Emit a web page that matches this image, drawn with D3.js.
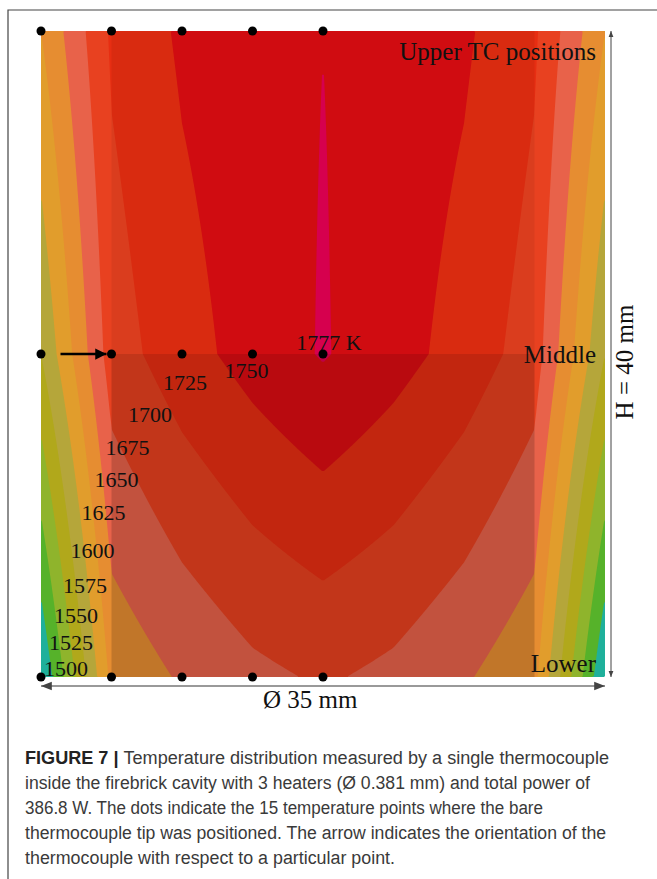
<!DOCTYPE html>
<html>
<head>
<meta charset="utf-8">
<script src="https://cdn.jsdelivr.net/npm/d3@7"></script>
<style>
  body { margin: 0; background: #fff; }
  svg { display: block; }
  .serif { font-family: "Liberation Serif", "DejaVu Serif", serif; fill: #111; }
  .cap { font-family: "Liberation Sans", Arial, sans-serif; font-size: 18px; fill: #3a3a3a; }
</style>
</head>
<body>
<svg></svg>
<script>
// thermocouple positions (mm) and measured temperatures (K)
const radius = [17.5, 13.125, 8.75, 4.375, 0]
const heights = [40, 20, 0]
const upperT = [1650, 1729, 1754, 1766, 1774.85]
const middleT = [1600, 1713, 1740, 1760, 1777]
const lowerT = [1500, 1657, 1678, 1694, 1703]

const levels = [1500, 1525, 1550, 1575, 1600, 1625, 1650, 1675, 1700, 1725, 1750, 1775]
const bandColors = ['#1fb09b', '#56b22a', '#8fb42c', '#b1a81b', '#b5a63a', '#e19d2c',
                    '#e68d31', '#e8624a', '#e84120', '#e72e12', '#dd0d13', '#e40053']
const levelLabels = ['1500', '1525', '1550', '1575', '1600', '1625', '1650', '1675', '1700', '1725', '1750']
// label anchors along the lower-left diagonal, in mm (r, h)
const labelR = [-15.95, -15.64, -15.33, -14.77, -14.30, -13.62, -12.81, -12.13, -10.74, -8.56, -4.75]
const labelH = [0.06, 1.67, 3.34, 5.20, 7.37, 9.72, 11.76, 13.75, 15.79, 17.77, 18.51]
const peakLabel = '1777 K'

const captionLines = [
  ['FIGURE 7 | ', 'Temperature distribution measured by a single thermocouple'],
  ['', 'inside the firebrick cavity with 3 heaters (Ø 0.381 mm) and total power of'],
  ['', '386.8 W. The dots indicate the 15 temperature points where the bare'],
  ['', 'thermocouple tip was positioned. The arrow indicates the orientation of the'],
  ['', 'thermocouple with respect to a particular point.']
]
const captionWidths = [584, 565, 518, 581, 370]

const svg = d3.select("svg")
    .attr("width", 657)
    .attr("height", 879)

const xScale = d3.scaleLinear()
    .domain([-17.5, 17.5])
    .range([41, 605])

const yScale = d3.scaleLinear()
    .domain([0, 40])
    .range([677, 31])

// frame
svg.append("path")
    .attr("d", "M8,879 V10 H657")
    .attr("fill", "none")
    .attr("stroke", "#444")
    .attr("stroke-width", 1.2)

// piecewise linear in r for each row, then linear in h
const rows = [upperT, middleT, lowerT].map(t => d3.scaleLinear().domain(radius).range(t))
function tempAt(r, h) {
    const a = Math.abs(r)
    const col = d3.scaleLinear().domain(heights).range(rows.map(s => s(a)))
    return col(h)
}

const step = 2
const x0 = xScale.range()[0], y0 = yScale.range()[1]
const nx = Math.ceil((xScale.range()[1] - x0) / step)
const ny = Math.ceil((yScale.range()[0] - y0) / step)
const values = new Array(nx * ny)
for (let j = 0; j < ny; j++) {
    for (let i = 0; i < nx; i++) {
        const r = xScale.invert(x0 + (i + 0.5) * step)
        const h = yScale.invert(y0 + (j + 0.5) * step)
        values[j * nx + i] = tempAt(r, h)
    }
}

const contours = d3.contours()
    .size([nx, ny])
    .thresholds(levels)(values)

svg.append("clipPath")
    .attr("id", "plotclip")
    .append("rect")
    .attr("x", xScale(-17.5))
    .attr("y", yScale(40))
    .attr("width", xScale(17.5) - xScale(-17.5))
    .attr("height", yScale(0) - yScale(40))

const plot = svg.append("g").attr("clip-path", "url(#plotclip)")

plot.append("g")
    .attr("transform", `translate(${x0},${y0}) scale(${step})`)
    .selectAll("path")
    .data(contours)
    .join("path")
    .attr("d", d3.geoPath())
    .attr("fill", (d, i) => bandColors[i])

// darker shading of the inner mesh cells (upper lighter, lower stronger)
const shade = [[heights[0], heights[1], 0.06], [heights[1], heights[2], 0.16]]
plot.selectAll("rect.shade")
    .data(shade)
    .join("rect")
    .attr("class", "shade")
    .attr("x", xScale(-radius[1]))
    .attr("y", d => yScale(d[0]))
    .attr("width", xScale(radius[1]) - xScale(-radius[1]))
    .attr("height", d => yScale(d[1]) - yScale(d[0]))
    .attr("fill", "#000")
    .attr("opacity", d => d[2])

// contour labels
svg.selectAll("text.lvl")
    .data(levelLabels)
    .join("text")
    .attr("class", "lvl serif")
    .attr("x", (d, i) => xScale(labelR[i]))
    .attr("y", (d, i) => yScale(labelH[i]))
    .attr("text-anchor", "middle")
    .attr("font-size", 22)
    .text(d => d)

svg.append("text")
    .attr("class", "serif")
    .attr("x", xScale(0.37))
    .attr("y", yScale(20.25))
    .attr("text-anchor", "middle")
    .attr("font-size", 22)
    .text(peakLabel)

// row labels
const rowLabels = [["Upper TC positions", 60], ["Middle", 363], ["Lower", 672]]
svg.selectAll("text.row")
    .data(rowLabels)
    .join("text")
    .attr("class", "row serif")
    .attr("x", 596)
    .attr("y", d => d[1])
    .attr("text-anchor", "end")
    .attr("font-size", 25)
    .text(d => d[0])

// measurement points
const points = []
heights.forEach((h, j) => {
    const t = [upperT, middleT, lowerT][j]
    radius.forEach((r, i) => points.push({ r: -r, h: h, t: t[i] }))
})
svg.selectAll("circle.pt")
    .data(points)
    .join("circle")
    .attr("class", "pt")
    .attr("cx", d => xScale(d.r))
    .attr("cy", d => yScale(d.h))
    .attr("r", 4.5)
    .attr("fill", "#000")

// markers
const defs = svg.append("defs")
defs.append("marker")
    .attr("id", "head")
    .attr("viewBox", "0 0 10 10")
    .attr("refX", 10).attr("refY", 5)
    .attr("markerWidth", 4.5).attr("markerHeight", 4.5)
    .attr("orient", "auto")
    .append("path").attr("d", "M0,0 L10,5 L0,10 Z").attr("fill", "#000")
defs.append("marker")
    .attr("id", "dim")
    .attr("viewBox", "0 0 10 10")
    .attr("refX", 10).attr("refY", 5)
    .attr("markerWidth", 6).attr("markerHeight", 6)
    .attr("orient", "auto-start-reverse")
    .append("path").attr("d", "M0,1 L10,5 L0,9 Z").attr("fill", "#444")

// thermocouple orientation arrow
const tip = xScale(-radius[1]) - 5
svg.append("line")
    .attr("x1", tip - 46).attr("x2", tip)
    .attr("y1", yScale(heights[1])).attr("y2", yScale(heights[1]))
    .attr("stroke", "#000")
    .attr("stroke-width", 2.5)
    .attr("marker-end", "url(#head)")

// dimensions
const dimX = xScale(17.5) + 6
svg.append("line")
    .attr("x1", dimX).attr("x2", dimX)
    .attr("y1", yScale(40)).attr("y2", yScale(0))
    .attr("stroke", "#444").attr("stroke-width", 1)
    .attr("marker-start", "url(#dim)")
    .attr("marker-end", "url(#dim)")

svg.append("text")
    .attr("class", "serif")
    .attr("transform", `translate(${dimX + 22},${yScale(20) + 8}) rotate(-90)`)
    .attr("text-anchor", "middle")
    .attr("font-size", 25)
    .text("H = 40 mm")

const dimY = yScale(0) + 9
svg.append("line")
    .attr("x1", xScale(-17.5)).attr("x2", xScale(17.5))
    .attr("y1", dimY).attr("y2", dimY)
    .attr("stroke", "#999").attr("stroke-width", 1.8)
    .attr("marker-start", "url(#dim)")
    .attr("marker-end", "url(#dim)")

svg.append("text")
    .attr("class", "serif")
    .attr("x", xScale(-0.8))
    .attr("y", dimY + 22)
    .attr("text-anchor", "middle")
    .attr("font-size", 25)
    .text("Ø 35 mm")

// caption
const cap = svg.selectAll("text.cap")
    .data(captionLines)
    .join("text")
    .attr("class", "cap")
    .attr("x", 25)
    .attr("y", (d, i) => 764 + i * 25)
    .attr("textLength", (d, i) => captionWidths[i])
    .attr("lengthAdjust", "spacingAndGlyphs")

cap.append("tspan")
    .attr("font-weight", "bold")
    .attr("fill", "#222")
    .text(d => d[0])

cap.append("tspan")
    .text(d => d[1])
</script>
</body>
</html>
